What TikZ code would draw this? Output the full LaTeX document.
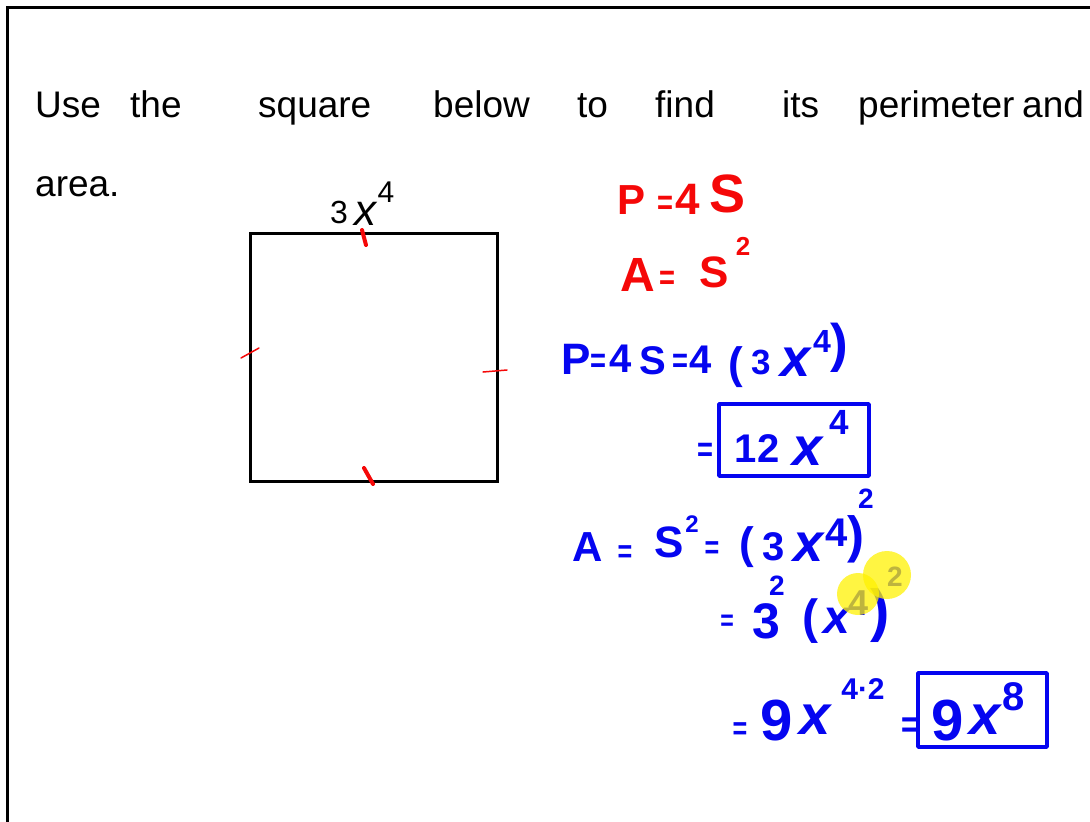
\documentclass[tikz,border=0pt]{standalone}
\usepackage{graphicx}
\usepackage{fontspec}
\setmainfont{Liberation Sans}
\newcommand\fz[1]{\fontsize{#1}{#1}\selectfont}
\newcommand\eqs{{\scalebox{1.05}[1.35]{=}}}
\definecolor{mred}{RGB}{245,8,8}
\definecolor{mblue}{RGB}{5,5,240}
\definecolor{hl}{RGB}{255,242,0}
\tikzset{
  wd/.style={anchor=base west,inner sep=0pt,text=black,font=\fz{37}},
  rd/.style={inner sep=0pt,text=mred},
  bl/.style={inner sep=0pt,text=mblue},
  tick/.style={draw=mred,line cap=round},
  ansbox/.style={draw=mblue,line width=3.5pt,line join=round}
}
\begin{document}
\begin{tikzpicture}[x=1pt,y=-1pt]
\useasboundingbox (0,0) rectangle (1090,822);
\fill[white] (0,0) rectangle (1090,822);
% frame
\draw[line width=2.2pt] (1090,7.5) -- (7.5,7.5) -- (7.5,822);
% instructions
\node[wd] (w1) at (35,117) {Use};
\node[wd] (w2) at (130,117) {the};
\node[wd] (w3) at (258,117) {square};
\node[wd] (w4) at (433,117) {below};
\node[wd] (w5) at (577,117) {to};
\node[wd] (w6) at (655,117) {find};
\node[wd] (w7) at (782,117) {its};
\node[wd] (w8) at (858,117) {perimeter};
\node[wd] (w9) at (1022,117) {and};
\node[wd] (w10) at (35,196) {area.};
% square
\draw[line width=3.5pt] (250.5,233.5) rectangle (497.5,481.5);
\node[inner sep=0pt,font=\fz{32}] (s3) at (339,212) {3};
\node[inner sep=0pt,font=\fz{44}\itshape] (sx) at (365,214) {x};
\node[inner sep=0pt,font=\fz{30}] (s4) at (386,192) {4};
\draw[tick,line width=4pt] (362,230) -- (366,245);
\draw[tick,line width=4pt] (364,468) -- (373,484);
\draw[tick,line width=1.5pt] (241,358) -- (259,348);
\draw[tick,line width=1.5pt] (483,372) -- (507,370);
% red formulas
\node[rd,font=\fz{42}\bfseries] (rP) at (632,200) {P};
\node[rd,font=\fz{26}\bfseries] (re1) at (665,205) {\eqs};
\node[rd,font=\fz{44}\bfseries] (r4) at (688,199) {4};
\node[rd,font=\fz{54}\bfseries] (rS) at (728,194) {S};
\node[rd,font=\fz{48}\bfseries] (rA) at (638,275) {A};
\node[rd,font=\fz{26}\bfseries] (re2) at (667,280) {\eqs};
\node[rd,font=\fz{44}\bfseries] (rS2) at (714,272) {S};
\node[rd,font=\fz{26}\bfseries] (r2) at (743,246) {2};
% blue line 1
\node[bl,font=\fz{44}\bfseries] (a1) at (576,359) {P};
\node[bl,font=\fz{26}\bfseries] (a2) at (598,363) {\eqs};
\node[bl,font=\fz{40}\bfseries] (a3) at (621,359) {4};
\node[bl,font=\fz{40}\bfseries] (a4) at (653,361) {S};
\node[bl,font=\fz{26}\bfseries] (a5) at (680,363) {\eqs};
\node[bl,font=\fz{40}\bfseries] (a6) at (701,360) {4};
\node[bl,font=\fz{44}\bfseries] (a7) at (736,367) {(};
\node[bl,font=\fz{35}\bfseries] (a8) at (761,362) {3};
\node[bl,font=\fz{54}\bfseries\itshape] (a9) at (796,362) {x};
\node[bl,font=\fz{32}\bfseries] (a10) at (822,341) {4};
\node[bl,font=\fz{53}\bfseries] (a11) at (839,348) {)};
% blue line 2
\node[bl,font=\fz{26}\bfseries] (b1) at (705,452) {\eqs};
\draw[ansbox] (719,404) rectangle (869,476);
\node[bl,font=\fz{40}\bfseries] (b2) at (757,449) {12};
\node[bl,font=\fz{54}\bfseries\itshape] (b3) at (808,451) {x};
\node[bl,font=\fz{35}\bfseries] (b4) at (839,422) {4};
% blue line 3
\node[bl,font=\fz{42}\bfseries] (c1) at (588,547) {A};
\node[bl,font=\fz{24}\bfseries] (c2) at (625,554) {\eqs};
\node[bl,font=\fz{44}\bfseries] (c3) at (669,542) {S};
\node[bl,font=\fz{24}\bfseries] (c4) at (692,524) {2};
\node[bl,font=\fz{24}\bfseries] (c5) at (712,550) {\eqs};
\node[bl,font=\fz{44}\bfseries] (c6) at (747,547) {(};
\node[bl,font=\fz{40}\bfseries] (c7) at (774,547) {3};
\node[bl,font=\fz{54}\bfseries\itshape] (c8) at (809,547) {x};
\node[bl,font=\fz{40}\bfseries] (c9) at (837,533) {4};
\node[bl,font=\fz{51}\bfseries] (c10) at (856,539) {)};
\node[bl,font=\fz{28}\bfseries] (c11) at (866,499) {2};
% blue line 4
\node[bl,font=\fz{22}\bfseries] (d1) at (727,623) {\eqs};
\node[bl,font=\fz{50}\bfseries] (d2) at (766,621) {3};
\node[bl,font=\fz{28}\bfseries] (d3) at (777,586) {2};
\node[bl,font=\fz{48}\bfseries] (d4) at (810,621) {(};
\node[bl,font=\fz{48}\bfseries\itshape] (d5) at (837,621) {x};
\node[bl,font=\fz{36}\bfseries] (d6) at (859,603) {4};
\node[bl,font=\fz{58}\bfseries] (d7) at (880,615) {)};
\node[bl,font=\fz{28}\bfseries] (d8) at (895,577) {2};
\fill[hl,opacity=0.74] (858,594) circle[radius=21];
\fill[hl,opacity=0.74] (887,575) circle[radius=24];
% blue line 5
\node[bl,font=\fz{24}\bfseries] (e1) at (740,731) {\eqs};
\node[bl,font=\fz{58}\bfseries] (e2) at (777,721) {9};
\node[bl,font=\fz{56}\bfseries\itshape] (e3) at (815,720) {x};
\node[bl,font=\fz{30}\bfseries] (e4) at (863,689) {4·2};
\node[bl,font=\fz{28}\bfseries] (e5) at (910,728) {\eqs};
\draw[ansbox] (918,673) rectangle (1047,747);
\node[bl,font=\fz{58}\bfseries] (e6) at (948,721) {9};
\node[bl,font=\fz{56}\bfseries\itshape] (e7) at (985,720) {x};
\node[bl,font=\fz{40}\bfseries] (e8) at (1014,697) {8};
\end{tikzpicture}
\end{document}
